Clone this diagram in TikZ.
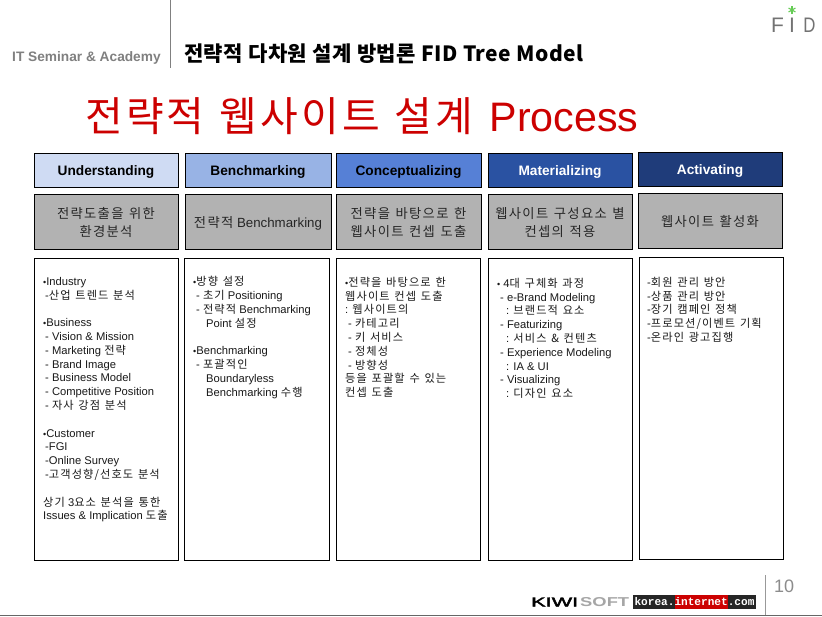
\documentclass[tikz,border=0pt]{standalone}
\usepackage{fontspec}
\usepackage{graphicx}
\usetikzlibrary{calc}
\setmainfont{Liberation Sans}
\setmonofont{Liberation Mono}
\newfontfamily\krf[LetterSpace=10,WordSpace=1.3]{Noto Sans CJK KR}
\newfontfamily\krtitle[LetterSpace=7.7,WordSpace=1.2]{Noto Sans CJK KR}
\newfontfamily\krsub[LetterSpace=1.5,WordSpace=1.1]{Noto Sans CJK KR}
\newfontfamily\kiwif[FakeBold=2.5]{Liberation Sans}
\newcommand{\krn}[1]{{\krf #1}}
\newcommand{\kr}[1]{\smash{\krf #1}}
\newcommand{\bul}{{\fontsize{9}{9}\selectfont •}}
\newcommand{\topline}{\rule{0pt}{9pt}}
\definecolor{hdra}{HTML}{CFDBF3}
\definecolor{hdrb}{HTML}{98B3E5}
\definecolor{hdrc}{HTML}{5680D6}
\definecolor{hdrd}{HTML}{2A52A2}
\definecolor{hdre}{HTML}{1F3C7A}
\definecolor{greybox}{HTML}{B2B2B2}
\definecolor{redtitle}{HTML}{CC0000}
\definecolor{greytxt}{HTML}{808080}
\definecolor{leaf}{HTML}{66CC55}
\tikzset{
  shapebox/.style={draw=black,line width=1pt,rectangle,inner sep=0pt},
  hdrtext/.style={inner sep=0pt,font=\fontsize{13.7}{15}\selectfont\bfseries},
  subtext/.style={inner sep=0pt,align=center,text=black!85,font=\fontsize{13.3}{18}\selectfont},
  listtext/.style={anchor=north west,inner sep=0pt,align=left,text=black!90,font=\fontsize{11.2}{13.8}\selectfont},
  logoletter/.style={inner sep=0pt,text=black!55,font=\fontsize{21}{24}\selectfont}
}
% name, x1, x2, y1, y2, fill
\newcommand{\boxat}[6]{\node[shapebox,fill=#6,minimum width=#3pt-#2pt,minimum height=#5pt-#4pt] (#1) at ({(#2+#3)/2},{(#4+#5)/2}) {};}
\begin{document}
\begin{tikzpicture}[x=1pt,y=-1pt]
\useasboundingbox (0,0) rectangle (822,616);
\fill[white] (0,0) rectangle (822,616);
% top header
\coordinate (vtop) at (170.5,0);
\coordinate (vbot) at (170.5,68);
\draw[draw=black!50,line width=0.8pt] (vtop) -- (vbot);
\node[anchor=west,inner sep=0pt,text=greytxt,font=\fontsize{13.7}{15}\selectfont\bfseries] (brand) at (12,58) {IT Seminar \& Academy};
\node[anchor=west,inner sep=0pt,font=\fontsize{21}{24}\selectfont\bfseries\krsub] (sub) at (184,54) {전략적 다차원 설계 방법론 FID Tree Model};
\node[anchor=west,inner sep=0pt,text=redtitle,font=\fontsize{41.2}{46}\selectfont] (main) at (85,116.5) {{\fontsize{41}{46}\selectfont\krtitle 전략적 웹사이트 설계} \hspace{5pt}Process};
% logo
\node[logoletter] (logoF) at (777.5,25) {F};
\node[logoletter] (logoI) at (792,25) {I};
\node[logoletter] (logoD) at (809.5,25) {\scalebox{0.8}[1]{D}};
\coordinate (st) at (792,10);
\foreach \a in {0,60,120} \draw[leaf,line width=1.1pt] ($(st)+(\a+90:4)$) -- ($(st)+(\a+270:4)$);
% header row
\boxat{h1}{34}{178}{153}{187}{hdra}
\boxat{h2}{185}{331}{153}{187}{hdrb}
\boxat{h3}{336}{481}{153}{187}{hdrc}
\boxat{h4}{488}{632}{153}{187}{hdrd}
\boxat{h5}{638}{782}{152}{186}{hdre}
\node[hdrtext] (h1t) at ([yshift=-2.2pt]h1.center) {Understanding};
\node[hdrtext] (h2t) at ([yshift=-2.2pt]h2.center) {Benchmarking};
\node[hdrtext] (h3t) at ([yshift=-2.2pt]h3.center) {Conceptualizing};
\node[hdrtext,text=white] (h4t) at ([yshift=-2.2pt]h4.center) {Materializing};
\node[hdrtext,text=white] (h5t) at ([yshift=-2.2pt]h5.center) {Activating};
% grey row
\boxat{s1}{34}{178}{194}{249}{greybox}
\boxat{s2}{185}{331}{194}{249}{greybox}
\boxat{s3}{336}{481}{194}{249}{greybox}
\boxat{s4}{488}{632}{194}{249}{greybox}
\boxat{s5}{638}{782}{193}{248}{greybox}
\node[subtext] (s1t) at ([yshift=-1pt]s1.center) {\krn{전략도출을 위한}\\\krn{환경분석}};
\node[subtext] (s2t) at ([yshift=-1.5pt]s2.center) {\krn{전략적} Benchmarking};
\node[subtext] (s3t) at ([yshift=-1pt]s3.center) {\krn{전략을 바탕으로 한}\\\krn{웹사이트 컨셉 도출}};
\node[subtext] (s4t) at ([yshift=-1pt]s4.center) {\krn{웹사이트 구성요소 별}\\\krn{컨셉의 적용}};
\node[subtext] (s5t) at ([yshift=-1pt]s5.center) {\krn{웹사이트 활성화}};
% list row
\boxat{l1}{34}{178}{258}{560}{white}
\boxat{l2}{184}{329}{258}{560}{white}
\boxat{l3}{336}{480}{258}{560}{white}
\boxat{l4}{488}{632}{258}{560}{white}
\boxat{l5}{639}{783}{257}{559}{white}
\node[listtext] (t1) at (43,276) {\topline\bul Industry\\
\hspace*{2pt}-\kr{산업 트렌드 분석}\\
\mbox{}\\
\bul Business\\
\hspace*{2pt}- Vision \& Mission\\
\hspace*{2pt}- Marketing \kr{전략}\\
\hspace*{2pt}- Brand Image\\
\hspace*{2pt}- Business Model\\
\hspace*{2pt}- Competitive Position\\
\hspace*{2pt}- \kr{자사 강점 분석}\\
\mbox{}\\
\bul Customer\\
\hspace*{2pt}-FGI\\
\hspace*{2pt}-Online Survey\\
\hspace*{2pt}-\kr{고객성향/선호도 분석}\\
\mbox{}\\
\kr{상기} 3\kr{요소 분석을 통한}\\
Issues \& Implication \kr{도출}};
\node[listtext] (t2) at (193,276.5) {\topline\bul\kr{방향 설정}\\
\hspace*{3pt}- \kr{초기} Positioning\\
\hspace*{3pt}- \kr{전략적} Benchmarking\\
\hspace*{13pt}Point \kr{설정}\\
\mbox{}\\
\bul Benchmarking\\
\hspace*{3pt}- \kr{포괄적인}\\
\hspace*{13pt}Boundaryless\\
\hspace*{13pt}Benchmarking \kr{수행}};
\node[listtext] (t3) at (345,277) {\topline\bul\kr{전략을 바탕으로 한}\\
\kr{웹사이트 컨셉 도출}\\
: \kr{웹사이트의}\\
\hspace*{3pt}- \kr{카테고리}\\
\hspace*{3pt}- \kr{키 서비스}\\
\hspace*{3pt}- \kr{정체성}\\
\hspace*{3pt}- \kr{방향성}\\
\kr{등을 포괄할 수 있는}\\
\kr{컨셉 도출}};
\node[listtext] (t4) at (497,278) {\topline\bul\hspace*{3pt}4\kr{대 구체화 과정}\\
\hspace*{3pt}- e-Brand Modeling\\
\hspace*{9pt}: \kr{브랜드적 요소}\\
\hspace*{3pt}- Featurizing\\
\hspace*{9pt}: \kr{서비스 \& 컨텐츠}\\
\hspace*{3pt}- Experience Modeling\\
\hspace*{9pt}: IA \& UI\\
\hspace*{3pt}- Visualizing\\
\hspace*{9pt}: \kr{디자인 요소}};
\node[listtext] (t5) at (647,277) {\topline-\kr{회원 관리 방안}\\
-\kr{상품 관리 방안}\\
-\kr{장기 캠페인 정책}\\
-\kr{프로모션/이벤트 기획}\\
-\kr{온라인 광고집행}};
% footer
\coordinate (fl) at (0,615.3);
\coordinate (fr) at (822,615.3);
\coordinate (vf) at (765.7,575);
\coordinate (vg) at (765.7,615);
\draw[draw=black!60,line width=0.9pt] (fl) -- (fr);
\draw[draw=black!40,line width=0.8pt] (vf) -- (vg);
\node[anchor=west,inner sep=0pt,text=black!45,font=\fontsize{18}{20}\selectfont] (page) at (774,586) {10};
\node[anchor=west,inner sep=0pt,font=\kiwif] (kiwi) at (531,602) {\resizebox{47pt}{9pt}{KIWI}};
\node[anchor=west,inner sep=0pt,text=black!35,font=\bfseries] (soft) at (580,602) {\resizebox{49pt}{9pt}{SOFT}};
\fill[black!85] (633,595) rectangle (756,609);
\fill[red!80!black] (675,595) rectangle (728,609);
\node[inner sep=0pt,text=white,font=\fontsize{11.1}{12}\selectfont\bfseries\ttfamily] (korea) at (694.5,602) {korea.internet.com};
\end{tikzpicture}
\end{document}
